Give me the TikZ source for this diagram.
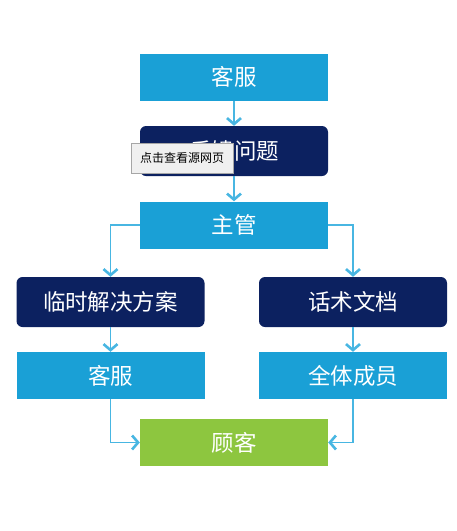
\documentclass[tikz,border=0pt]{standalone}
\usepackage{fontspec}
\usepackage{xcolor}
\newfontfamily\cjk{Noto Sans CJK SC}
\definecolor{BoxBlue}{RGB}{26,160,214}
\definecolor{BoxNavy}{RGB}{12,33,96}
\definecolor{BoxGreen}{RGB}{141,198,63}
\definecolor{LineBlue}{RGB}{72,182,226}
\usetikzlibrary{positioning, arrows.meta}

\begin{document}
\begin{tikzpicture}[x=1pt, y=-1pt, font=\cjk\fontsize{22.5}{26}\selectfont]
    \tikzset{
        lightblock/.style={rectangle, fill=BoxBlue, text=white,
            minimum width=188pt, minimum height=47pt, inner sep=0pt},
        darkblock/.style={rectangle, rounded corners=6pt, fill=BoxNavy,
            text=white, minimum width=188pt, minimum height=50pt, inner sep=0pt},
        greenblock/.style={rectangle, fill=BoxGreen, text=white,
            minimum width=188pt, minimum height=47pt, inner sep=0pt},
        tipbox/.style={rectangle, fill=black!6, draw=black!35, text=black,
            minimum width=102pt, minimum height=30pt, inner sep=0pt,
            font=\cjk\fontsize{12}{14}\selectfont},
        flow/.style={draw=LineBlue, line width=1.6pt,
            -{Straight Barb[length=6pt, width=14pt, line width=2.6pt]}}
    }
    \useasboundingbox (0,0) rectangle (456,531);
    \node[lightblock] (kefu) at (234,77) {客服};
    \node[darkblock] (issue) at (234,151) {反馈问题};
    \node[lightblock] (zhuguan) at (234,225) {主管};
    \node[darkblock] (plan) at (110.5,302) {临时解决方案};
    \node[darkblock] (script) at (353,302) {话术文档};
    \node[lightblock] (kefulow) at (110.5,375.5) {客服};
    \node[lightblock] (members) at (353,375.5) {全体成员};
    \node[greenblock] (guke) at (234,442.5) {顾客};
    \draw[flow] (kefu) -- (issue);
    \draw[flow] (issue) -- (zhuguan);
    \draw[flow] (zhuguan.west) -| (plan.north);
    \draw[flow] (zhuguan.east) -| (script.north);
    \draw[flow] (plan) -- (kefulow);
    \draw[flow] (script) -- (members);
    \draw[flow] (kefulow.south) |- (guke.west);
    \draw[flow] (members.south) |- (guke.east);
    % tooltip lying over the second box
    \node[tipbox] (tip) at (182,158) {点击查看源网页};
\end{tikzpicture}
\end{document}
